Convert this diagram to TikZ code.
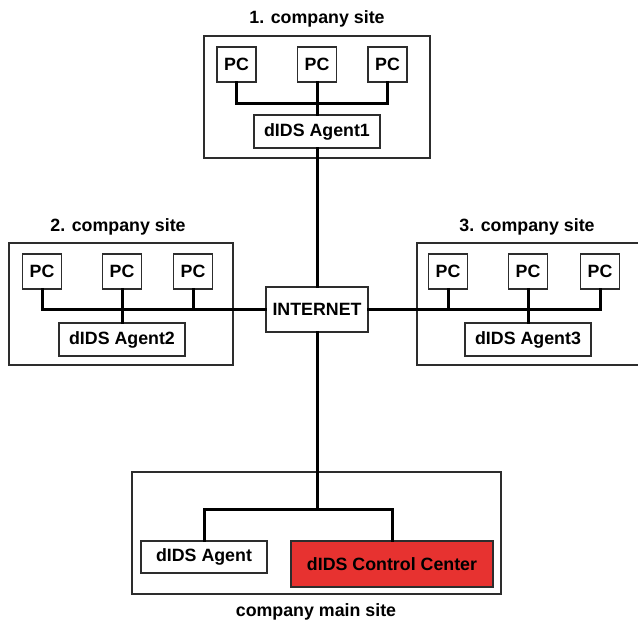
\documentclass[tikz,border=0pt]{standalone}
\usepackage{fontspec}
\setmainfont{Liberation Sans}
\definecolor{ccred}{RGB}{231,50,48}
\definecolor{boxline}{RGB}{45,45,45}
\begin{document}
\begin{tikzpicture}[x=1pt,y=-1pt,
  font=\fontsize{17.8}{20}\selectfont\bfseries,
  box/.style={draw=boxline,line width=1.2pt,fill=white,inner sep=0pt},
  site/.style={box,minimum height=122pt},
  pcbox/.style={box,minimum width=39pt,minimum height=35pt},
  agentbox/.style={box,minimum width=126pt,minimum height=33pt},
  wire/.style={line width=3pt,line join=miter,line cap=rect},
  title/.style={inner sep=0pt}]
\useasboundingbox (0,0) rectangle (638,621);

% ---------- site frames ----------
\node[site,minimum width=226pt] (site1) at (317,97) {};
\node[site,minimum width=224pt] (site2) at (121,304) {};
\node[site,minimum width=226pt] (site3) at (530,304) {};
\node[site,minimum width=369pt] (sitem) at (316.5,533) {};

\node[title] (t1) at (317,19) {1. company site};
\node[title] (t2) at (118,227) {2. company site};
\node[title] (t3) at (527,227) {3. company site};
\node[title] (tm) at (316,612) {company main site};

% ---------- INTERNET ----------
\node[box,minimum width=102pt,minimum height=45pt] (inet) at (317,309.5) {INTERNET};

% ---------- site 1 ----------
\node[pcbox] (pc1a) at (236.5,64.5) {PC};
\node[pcbox] (pc1b) at (317,64.5) {PC};
\node[pcbox] (pc1c) at (387.5,64.5) {PC};
\node[agentbox] (ag1) at (317,131.5) {dIDS Agent1};
\coordinate (bus1) at (317,103);

% ---------- site 2 ----------
\node[pcbox] (pc2a) at (42,271.5) {PC};
\node[pcbox] (pc2b) at (122,271.5) {PC};
\node[pcbox] (pc2c) at (193,271.5) {PC};
\node[agentbox] (ag2) at (122,339.5) {dIDS Agent2};

% ---------- site 3 ----------
\node[pcbox] (pc3a) at (448,271.5) {PC};
\node[pcbox] (pc3b) at (528,271.5) {PC};
\node[pcbox] (pc3c) at (600,271.5) {PC};
\node[agentbox] (ag3) at (528,339.5) {dIDS Agent3};

% ---------- main site ----------
\node[agentbox,minimum height=32pt] (agm) at (204,557) {dIDS Agent};
\node[box,fill=ccred,minimum width=202pt,minimum height=46pt] (cc) at (392,564) {dIDS Control Center};
\coordinate (busm) at (317,509);

% ---------- wiring ----------
\draw[wire] (pc1a.south) |- (bus1) -| (pc1c.south);
\draw[wire] (pc1b.south) -- (ag1.north);
\draw[wire] (ag1.south) -- (inet.north);

\draw[wire] (pc2a.south) |- (inet.west);
\draw[wire] (pc2b.south) -- (ag2.north);
\draw[wire] (pc2c.south) -- (pc2c.south |- inet.west);

\draw[wire] (inet.east) -| (pc3c.south);
\draw[wire] (pc3a.south) -- (pc3a.south |- inet.east);
\draw[wire] (pc3b.south) -- (ag3.north);

\draw[wire] (inet.south) -- (busm);
\draw[wire] (agm.north) |- (busm) -| (cc.north);
\end{tikzpicture}
\end{document}
